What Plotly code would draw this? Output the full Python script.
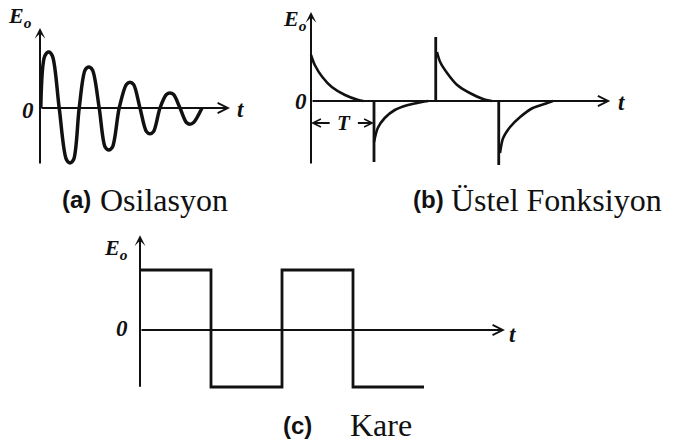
import plotly.graph_objects as go

W, H = 674, 446
INK = "#111111"
SERIF = "'Liberation Serif', 'Times New Roman', serif"
SANS = "'Liberation Sans', Arial, sans-serif"

# (a) Osilasyon: damped oscillation (rounded, flat-topped swings)
osc_t = [0.02, 0.12, 0.22, 0.31, 0.48, 0.66, 0.75, 0.84, 0.98, 1.13, 1.22, 1.31,
         1.48, 1.63, 1.72, 1.81, 1.98, 2.16, 2.25, 2.34, 2.50, 2.66, 2.75, 2.84,
         3.00, 3.16, 3.25, 3.34, 3.50, 3.66, 3.75, 3.84, 4.05]
osc_v = [0.0, 0.93, 1.00, 0.93, 0.0, -0.92, -0.98, -0.92, 0.0, 0.68, 0.73, 0.68,
         0.0, -0.70, -0.75, -0.70, 0.0, 0.42, 0.46, 0.42, 0.0, -0.42, -0.46, -0.42,
         0.0, 0.24, 0.27, 0.24, 0.0, -0.26, -0.29, -0.26, 0.0]

# (b) Üstel Fonksiyon: decaying pulses, time in units of T
pos1_t = [0.0, 0.06, 0.18, 0.33, 0.54, 0.75, 0.83]
pos1_v = [0.92, 0.72, 0.48, 0.28, 0.12, 0.02, 0.0]
neg1_t = [1.0, 1.06, 1.17, 1.33, 1.54, 1.76, 1.86]
neg1_v = [-0.82, -0.54, -0.34, -0.18, -0.08, -0.02, 0.0]
pos2_t = [2.0, 2.05, 2.16, 2.32, 2.52, 2.73, 2.87]
pos2_v = [0.98, 0.78, 0.56, 0.32, 0.16, 0.04, 0.0]
neg2_t = [3.0, 3.05, 3.16, 3.32, 3.52, 3.75, 3.84]
neg2_v = [-1.04, -0.74, -0.52, -0.32, -0.14, -0.04, 0.0]
edge_t = [1.0, 1.98, 2.98]
edge_v = [-1.22, 1.28, -1.28]

# (c) Kare: square wave, time in half periods
sq_t = [0, 1, 2, 3, 4]
sq_v = [1.0, -0.95, 1.0, -0.95, -0.95]

# axis extents (time end, amplitude bottom, amplitude top)
axis_a = (4.75, -1.02, 1.43)
axis_b = (4.75, -1.28, 1.78)
axis_c = (5.14, -0.97, 1.58)


def frame(x0, y0, x1, y1, ox, oy, sx, sy):
    """Axis pair placed in a pixel box, origin at (ox, oy), sx/sy px per unit."""
    common = dict(visible=False, showgrid=False, zeroline=False, fixedrange=True)
    xa = dict(domain=[x0 / W, x1 / W], range=[(x0 - ox) / sx, (x1 - ox) / sx], **common)
    ya = dict(domain=[1 - y1 / H, 1 - y0 / H], range=[(oy - y1) / sy, (oy - y0) / sy], **common)
    return xa, ya


xa1, ya1 = frame(0, 0, 262, 180, 40, 108, 40, 56)
xa2, ya2 = frame(268, 0, 674, 180, 311, 101, 63, 50)
xa3, ya3 = frame(90, 215, 560, 400, 140, 330, 71, 60)

fig = go.Figure()

# (a)
fig.add_trace(go.Scatter(x=osc_t, y=osc_v, mode="lines", xaxis="x", yaxis="y",
                         line=dict(color=INK, width=3.5, shape="spline", smoothing=0.9)))

# (b)
for tt, vv in [(pos1_t, pos1_v), (neg1_t, neg1_v), (pos2_t, pos2_v), (neg2_t, neg2_v)]:
    fig.add_trace(go.Scatter(x=tt, y=vv, mode="lines", xaxis="x2", yaxis="y2",
                             line=dict(color=INK, width=2.6, shape="spline", smoothing=0.8)))
ex, ey = [], []
for t, v in zip(edge_t, edge_v):
    ex += [t, t, None]
    ey += [0, v, None]
fig.add_trace(go.Scatter(x=ex, y=ey, mode="lines", xaxis="x2", yaxis="y2",
                         line=dict(color=INK, width=2.8)))

# (c)
fig.add_trace(go.Scatter(x=sq_t, y=sq_v, mode="lines", xaxis="x3", yaxis="y3",
                         line=dict(color=INK, width=2.8, shape="hv")))

ann = []


def arrow(xr, yr, x, y, ax, ay, head, width=2, size=1.0):
    ann.append(dict(xref=xr, yref=yr, axref=xr, ayref=yr, x=x, y=y, ax=ax, ay=ay,
                    text="", showarrow=True, arrowhead=head, arrowwidth=width,
                    arrowsize=size, arrowcolor=INK))


def label(xr, yr, x, y, text, size=23, family=SERIF, xanchor="center"):
    ann.append(dict(xref=xr, yref=yr, x=x, y=y, text=text, showarrow=False,
                    xanchor=xanchor, yanchor="middle",
                    font=dict(family=family, size=size, color=INK)))


E_LABEL = "<b><i>E</i></b><sub><b><i>o</i></b></sub>"

for (xr, yr), (tend, vbot, vtop) in zip([("x", "y"), ("x2", "y2"), ("x3", "y3")],
                                         [axis_a, axis_b, axis_c]):
    arrow(xr, yr, tend, 0, 0, 0, head=5, width=2, size=1.0)
    arrow(xr, yr, 0, vtop, 0, vbot, head=3, width=2, size=0.9)

# axis texts
label("x", "y", -0.30, -0.05, "<b><i>0</i></b>")
label("x", "y", 5.0, -0.03, "<b><i>t</i></b>")
label("x", "y", -0.85, 1.62, E_LABEL, size=22, xanchor="left")

label("x2", "y2", -0.16, 0.0, "<b><i>0</i></b>")
label("x2", "y2", 4.93, -0.02, "<b><i>t</i></b>")
label("x2", "y2", -0.48, 1.62, E_LABEL, size=22, xanchor="left")

label("x3", "y3", -0.25, 0.03, "<b><i>0</i></b>")
label("x3", "y3", 5.25, -0.08, "<b><i>t</i></b>")
label("x3", "y3", -0.53, 1.35, E_LABEL, size=22, xanchor="left")

# period marker in (b)
T_LEVEL = -0.44
arrow("x2", "y2", 0.0, T_LEVEL, 0.32, T_LEVEL, head=5, width=2, size=0.8)
arrow("x2", "y2", 1.0, T_LEVEL, 0.72, T_LEVEL, head=5, width=2, size=0.8)
label("x2", "y2", 0.52, T_LEVEL, "<b><i>T</i></b>", size=21)


# captions
def caption(px, py, tag, text, gap=38):
    ann.append(dict(xref="paper", yref="paper", x=px / W, y=1 - py / H,
                    text=f"<b>{tag}</b>", showarrow=False, xanchor="left", yanchor="middle",
                    font=dict(family=SANS, size=24, color=INK)))
    ann.append(dict(xref="paper", yref="paper", x=(px + gap) / W, y=1 - py / H,
                    text=text, showarrow=False, xanchor="left", yanchor="middle",
                    font=dict(family=SERIF, size=32, color=INK)))


caption(60, 200, "(a)", "Osilasyon")
caption(411, 200, "(b)", "Üstel Fonksiyon")
caption(281, 425, "(c)", "Kare", gap=67)

fig.update_layout(
    width=W, height=H, autosize=False,
    margin=dict(l=0, r=0, t=0, b=0),
    paper_bgcolor="white", plot_bgcolor="white",
    showlegend=False,
    xaxis=dict(anchor="y", **xa1), yaxis=dict(anchor="x", **ya1),
    xaxis2=dict(anchor="y2", **xa2), yaxis2=dict(anchor="x2", **ya2),
    xaxis3=dict(anchor="y3", **xa3), yaxis3=dict(anchor="x3", **ya3),
    annotations=ann,
)

fig.write_html("out.html", config={"displayModeBar": False})
